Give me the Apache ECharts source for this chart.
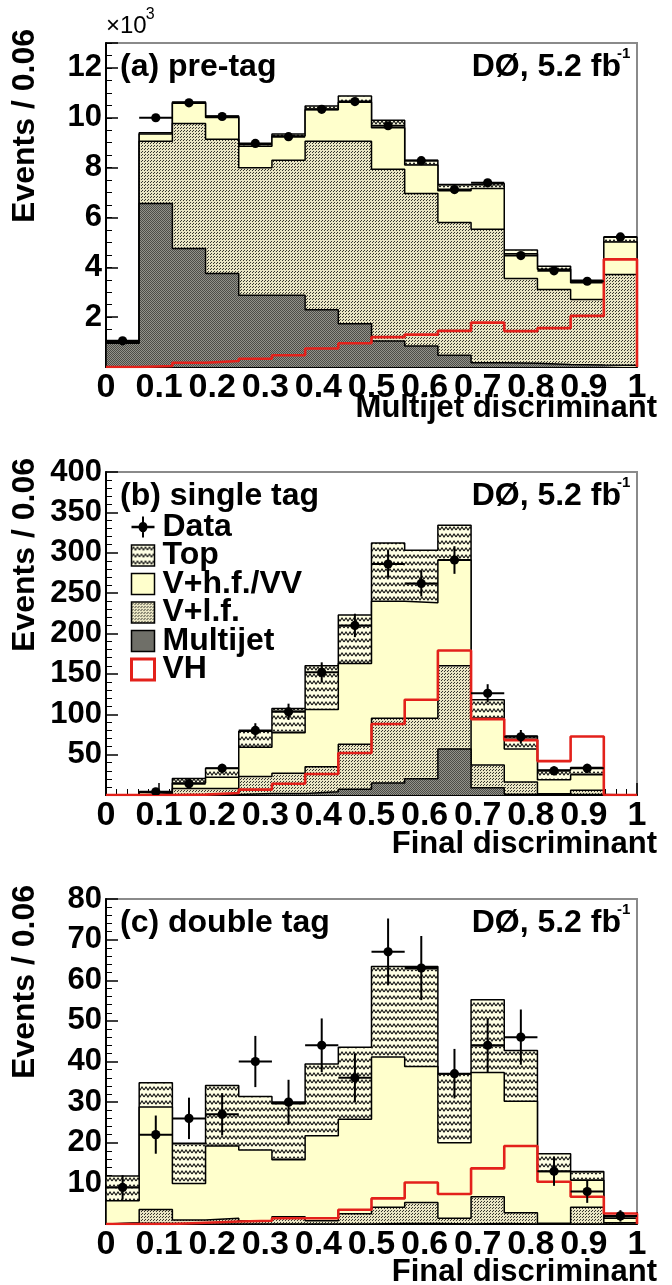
<!DOCTYPE html>
<html><head><meta charset="utf-8">
<script src="https://cdn.jsdelivr.net/npm/echarts@6/dist/echarts.min.js"></script>
<style>html,body{margin:0;padding:0;background:#fff}#c{width:672px;height:1285px}</style>
</head><body><div id="c"></div>
<script>
// ---------- data ----------
const binEdges = [0, 0.0625, 0.125, 0.1875, 0.25, 0.3125, 0.375, 0.4375, 0.5, 0.5625, 0.625, 0.6875, 0.75, 0.8125, 0.875, 0.9375, 1];
const componentNames = ['Top', 'V+h.f./VV', 'V+l.f.', 'Multijet', 'VH', 'Data'];
const panelLabels = ['(a) pre-tag', '(b) single tag', '(c) double tag'];
const xTitles = ['Multijet discriminant', 'Final discriminant', 'Final discriminant'];
const yTitle = 'Events / 0.06';
const expLabel = '\u00d710';
const expPower = '3';
const lumiLabel = 'D\u00d8, 5.2 fb';
const lumiPower = '-1';

// (a) pre-tag, in units of 10^3 events
const multijetA = [0.95, 6.56, 4.75, 3.75, 2.88, 2.88, 2.30, 1.74, 1.04, 0.84, 0.47, 0.17, 0.15, 0.10, 0.08, 0.07];
const vlfA      = [0.03, 2.50, 5.02, 5.39, 5.11, 5.42, 6.76, 7.32, 6.89, 6.12, 5.33, 5.36, 3.40, 3.01, 2.63, 3.64];
const vhfA      = [0.02, 0.29, 0.81, 0.87, 0.87, 0.97, 1.26, 1.56, 1.67, 1.14, 1.27, 1.63, 0.99, 0.81, 0.67, 1.31];
const topA      = [0.02, 0.05, 0.05, 0.06, 0.07, 0.08, 0.15, 0.25, 0.30, 0.20, 0.25, 0.20, 0.15, 0.12, 0.10, 0.20];
const vhA       = [0.00, 0.04, 0.17, 0.24, 0.33, 0.47, 0.74, 0.95, 1.20, 1.30, 1.45, 1.78, 1.44, 1.56, 2.05, 4.32];
const dataA     = [1.05, 10.0, 10.6, 10.05, 8.97, 9.24, 10.34, 10.65, 9.68, 8.28, 7.12, 7.39, 4.47, 3.86, 3.44, 5.22];
const errA      = [0.10, 0.10, 0.10, 0.10, 0.095, 0.096, 0.10, 0.10, 0.098, 0.091, 0.084, 0.086, 0.067, 0.062, 0.059, 0.072];

// (b) single tag
const multijetB = [0, 0, 0, 0.5, 2, 2, 4, 7, 15, 20, 57, 9, 1, 0.5, 0.5, 0];
const vlfB      = [0, 2, 8, 7.5, 21, 25, 31, 56, 80, 75, 103, 28, 15, 1, 5.5, 0];
const vhfB      = [0, 1, 7, 14, 36, 50, 71, 100, 145, 143, 131, 58, 41, 17.5, 19, 0];
const topB      = [0, 1, 5.5, 11, 20, 30, 54, 60, 72, 65, 43, 23, 16, 12, 9, 0];
const vhB       = [0, 0, 0.5, 2.5, 6.6, 14, 26, 52, 88, 118, 179, 94, 68, 42, 72.5, 0];
const dataB     = [null, 4, 14, 33, 80, 103, 152, 210, 286, 262, 291, 126, 72, 30, 33, null];
const errB      = [null, 2, 3.7, 5.7, 8.9, 10.1, 12.3, 14.5, 16.9, 16.2, 17.1, 11.2, 8.5, 5.5, 5.7, null];

// (c) double tag
const multijetC = [0.2, 0.1, 0, 0, 0, 0, 0, 0, 0.1, 0.1, 0, 0.1, 0, 0, 0, 0];
const vlfC      = [0.1, 3.5, 1.0, 1.4, 0.8, 1.8, 0.8, 2.5, 4.0, 5.2, 1.4, 6.6, 2.8, 0.2, 4.1, 0.3];
const vhfC      = [5.4, 25.2, 9.0, 17.8, 17.4, 14.0, 20.9, 23.3, 37.0, 33.5, 18.6, 30.6, 27.4, 12.7, 6.7, 1.1];
const topC      = [6.1, 6.0, 9.9, 14.9, 13.2, 13.8, 17.7, 17.7, 22.3, 24.6, 17.0, 17.9, 12.5, 4.4, 2.1, 0.4];
const vhC       = [0, 0, 0.3, 0.6, 0.8, 1.4, 1.4, 3.5, 6.3, 10.2, 7.4, 13.7, 19.2, 10.4, 6.7, 2.6];
const dataC     = [9, 22, 26, 27, 40, 30, 44, 36, 67, 63, 37, 44, 46, 13, 8, 2];
const errC      = [3, 4.7, 5.1, 5.2, 6.3, 5.5, 6.6, 6, 8.2, 7.9, 6.1, 6.6, 6.8, 3.6, 2.8, 1.4];

// ---------- helpers ----------
const FONT = "'Liberation Sans', Arial, Helvetica, sans-serif";
function makePattern(w, h, draw) {
  const c = document.createElement('canvas'); c.width = w; c.height = h;
  const g = c.getContext('2d'); draw(g, w, h);
  return { image: c, repeat: 'repeat' };
}
const topPat = makePattern(8, 7, (g, w, h) => {
  g.fillStyle = '#FFFFE4'; g.fillRect(0, 0, w, h);
  g.strokeStyle = '#111'; g.lineWidth = 1.1;
  g.beginPath(); g.moveTo(0, 5); g.lineTo(2, 2); g.lineTo(4, 5); g.lineTo(6, 2); g.lineTo(8, 5); g.stroke();
});
const vlfPat = makePattern(3, 3, (g) => {
  g.fillStyle = '#E9E5C4'; g.fillRect(0, 0, 3, 3);
  g.fillStyle = '#34342d'; g.fillRect(0, 2, 1, 1); g.fillRect(1, 1, 1, 1);
});
const mjPat = makePattern(2, 2, (g) => {
  g.fillStyle = '#92928a'; g.fillRect(0, 0, 2, 2);
  g.fillStyle = '#4c4c47'; g.fillRect(0, 0, 1, 1); g.fillRect(1, 1, 1, 1);
});
const YELLOW = '#FFFFCC';
const RED = '#E3211B';

function sumArr(...arrs) { return arrs[0].map((_, i) => arrs.reduce((s, a) => s + (a[i] || 0), 0)); }
function stepPts(v) {
  const n = v.length; const p = [[binEdges[0], 0]];
  for (let i = 0; i < n; i++) p.push([binEdges[i], v[i]]);
  p.push([binEdges[n], v[n - 1]]); p.push([binEdges[n], 0]);
  return p;
}
function dataPts(vals, errs) {
  const out = [];
  vals.forEach((v, i) => { if (v == null) return;
    out.push([(binEdges[i] + binEdges[i + 1]) / 2, v, errs[i], (binEdges[i + 1] - binEdges[i]) / 2]); });
  return out;
}
function renderData(params, api) {
  const xc = api.value(0), y = api.value(1), err = api.value(2), hw = api.value(3);
  const pC = api.coord([xc, y]), pL = api.coord([xc - hw, y]), pR = api.coord([xc + hw, y]);
  const pT = api.coord([xc, y + err]), pB = api.coord([xc, y - err]);
  return { type: 'group', children: [
    { type: 'line', shape: { x1: pL[0], y1: pL[1], x2: pR[0], y2: pR[1] }, style: { stroke: '#000', lineWidth: 2 } },
    { type: 'line', shape: { x1: pT[0], y1: pT[1], x2: pB[0], y2: pB[1] }, style: { stroke: '#000', lineWidth: 2 } },
    { type: 'circle', shape: { cx: pC[0], cy: pC[1], r: 4.6 }, style: { fill: '#000' } }
  ] };
}

const panels = [
  { mj: multijetA, vlf: vlfA, vhf: vhfA, top: topA, vh: vhA, data: dataA, err: errA },
  { mj: multijetB, vlf: vlfB, vhf: vhfB, top: topB, vh: vhB, data: dataB, err: errB },
  { mj: multijetC, vlf: vlfC, vhf: vhfC, top: topC, vh: vhC, data: dataC, err: errC }
];

// ---------- layout ----------
const gridTop = [43, 472, 899];
const gridH = [324, 323, 325];
const gridLeft = 106, gridW = 531;
const xTitleOffset = [41, 49, 48];

const grids = gridTop.map((t, i) => ({ left: gridLeft, top: t, width: gridW, height: gridH[i], show: true,
  borderColor: '#8a8a8a', borderWidth: 2, backgroundColor: 'rgba(0,0,0,0)', containLabel: false, outerBoundsMode: 'none' }));

const xAxes = [0, 1, 2].map(i => ({
  type: 'value', gridIndex: i, min: 0, max: 1, interval: 0.1,
  axisLine: { show: true, onZero: false, lineStyle: { color: '#000', width: 2 } },
  axisTick: { show: true, inside: true, length: 12, lineStyle: { color: '#000', width: 1.5 } },
  minorTick: { show: true, splitNumber: 5, length: 6, lineStyle: { color: '#000', width: 1 } },
  splitLine: { show: false }, minorSplitLine: { show: false },
  axisLabel: { show: true, fontSize: 34, fontWeight: 'bold', color: '#000', fontFamily: FONT, margin: 4,
    showMinLabel: true, showMaxLabel: true, hideOverlap: false,
    formatter: v => String(Math.round(v * 10) / 10) }
}));

function yAxisCfg(i, max, interval, split, fmt) {
  return {
    type: 'value', gridIndex: i, min: 0, max: max, interval: interval, position: 'left',
    axisLine: { show: true, onZero: false, lineStyle: { color: '#000', width: 2 } },
    axisTick: { show: true, inside: true, length: 12, lineStyle: { color: '#000', width: 1.5 } },
    minorTick: { show: split > 0, splitNumber: split || 5, length: 6, lineStyle: { color: '#000', width: 1 } },
    splitLine: { show: false }, minorSplitLine: { show: false },
    axisLabel: { show: true, fontSize: 31, fontWeight: 'bold', color: '#000', fontFamily: FONT, margin: 4,
      showMinLabel: true, showMaxLabel: true, hideOverlap: false, formatter: fmt }
  };
}
const yAxes = [
  yAxisCfg(0, 13, 2, 0, v => (v > 0 && Math.abs(v % 2) < 1e-9) ? String(v) : ''),
  yAxisCfg(1, 400, 50, 5, v => v > 0 ? String(v) : ''),
  yAxisCfg(2, 80, 10, 5, v => v > 0 ? String(v) : ''),
  { type: 'value', gridIndex: 0, min: 0, max: 13, interval: 0.5, position: 'left', offset: 0,
    axisLine: { show: false }, axisLabel: { show: false }, splitLine: { show: false },
    axisTick: { show: true, inside: true, length: 6, lineStyle: { color: '#000', width: 1 } } }
];

const series = [];
panels.forEach((p, i) => {
  const cumMj = p.mj;
  const cumVlf = sumArr(p.mj, p.vlf);
  const cumVhf = sumArr(p.mj, p.vlf, p.vhf);
  const total = sumArr(p.mj, p.vlf, p.vhf, p.top);
  const base = { type: 'line', xAxisIndex: i, yAxisIndex: i, step: 'end', symbol: 'none', showSymbol: false,
    silent: true, animation: false, emphasis: { disabled: true } };
  series.push(Object.assign({}, base, { name: 'Top', data: stepPts(total), z: 2,
    lineStyle: { color: '#000', width: 1.5 }, itemStyle: { color: '#000' }, areaStyle: { color: topPat, opacity: 1 } }));
  series.push(Object.assign({}, base, { name: 'V+h.f./VV', data: stepPts(cumVhf), z: 3,
    lineStyle: { color: '#000', width: 1.5 }, itemStyle: { color: '#000' }, areaStyle: { color: YELLOW, opacity: 1 } }));
  series.push(Object.assign({}, base, { name: 'V+l.f.', data: stepPts(cumVlf), z: 4,
    lineStyle: { color: '#000', width: 1.5 }, itemStyle: { color: '#000' }, areaStyle: { color: vlfPat, opacity: 1 } }));
  series.push(Object.assign({}, base, { name: 'Multijet', data: stepPts(cumMj), z: 5,
    lineStyle: { color: '#000', width: 1.5 }, itemStyle: { color: '#000' }, areaStyle: { color: mjPat, opacity: 1 } }));
  series.push(Object.assign({}, base, { name: 'VH', data: stepPts(p.vh), z: 6,
    lineStyle: { color: RED, width: 2.6 }, itemStyle: { color: RED } }));
  series.push({ type: 'custom', name: 'Data', xAxisIndex: i, yAxisIndex: i, z: 7, silent: true, animation: false,
    clip: true, data: dataPts(p.data, p.err), encode: { x: 0, y: 1 }, renderItem: renderData, itemStyle: { color: '#000' } });
});

// ---------- texts ----------
const measure = (() => { const c = document.createElement('canvas').getContext('2d');
  return (txt, font) => { c.font = font; return c.measureText(txt).width; }; })();
const graphic = [];
const expFont = `24px ${FONT}`;
graphic.push({ type: 'text', x: 106, y: 38, silent: true, style: { text: expLabel, font: expFont, fill: '#000', align: 'left', verticalAlign: 'bottom' } });
graphic.push({ type: 'text', x: 106 + measure(expLabel, expFont) - 1, y: 15, silent: true, style: { text: expPower, font: `16px ${FONT}`, fill: '#000', align: 'left', verticalAlign: 'middle' } });
gridTop.forEach((t, i) => {
  const b = t + gridH[i];
  graphic.push({ type: 'text', x: 9, y: t - 14, rotation: Math.PI / 2, silent: true,
    style: { text: yTitle, font: `bold 32px ${FONT}`, fill: '#000', align: 'right', verticalAlign: 'top' } });
  graphic.push({ type: 'text', x: 657, y: b + xTitleOffset[i], silent: true,
    style: { text: xTitles[i], font: `bold 31px ${FONT}`, fill: '#000', align: 'right', verticalAlign: 'middle' } });
  graphic.push({ type: 'text', x: 120, y: t + 24, silent: true,
    style: { text: panelLabels[i], font: `bold 32px ${FONT}`, fill: '#000', align: 'left', verticalAlign: 'middle' } });
  graphic.push({ type: 'text', x: 621, y: t + 24, silent: true,
    style: { text: lumiLabel, font: `bold 32px ${FONT}`, fill: '#000', align: 'right', verticalAlign: 'middle' } });
  graphic.push({ type: 'text', x: 617, y: t + 11, silent: true,
    style: { text: lumiPower, font: `bold 15px ${FONT}`, fill: '#000', align: 'left', verticalAlign: 'middle' } });
});

const option = {
  animation: false,
  backgroundColor: '#fff',
  grid: grids, xAxis: xAxes, yAxis: yAxes, series: series, graphic: graphic,
  legend: {
    orient: 'vertical', left: 130, top: 511, itemWidth: 23, itemHeight: 21, itemGap: -3.5, padding: 0,
    selectedMode: false, symbolKeepAspect: false,
    textStyle: { fontSize: 32, fontWeight: 'bold', color: '#000', fontFamily: FONT, padding: [0, 0, 0, 3] },
    data: [
      { name: 'Data', icon: 'path://M0,10 L23,10 L23,12 L0,12 Z M10.5,2 L12.5,2 L12.5,20 L10.5,20 Z M11.5,6.5 A4.5,4.5 0 1 1 11.49,6.5 Z', itemStyle: { color: '#000', borderWidth: 0 } },
      { name: 'Top', icon: 'rect', itemStyle: { color: topPat, borderColor: '#000', borderWidth: 1.5 } },
      { name: 'V+h.f./VV', icon: 'rect', itemStyle: { color: YELLOW, borderColor: '#000', borderWidth: 1.5 } },
      { name: 'V+l.f.', icon: 'rect', itemStyle: { color: vlfPat, borderColor: '#000', borderWidth: 1.5 } },
      { name: 'Multijet', icon: 'rect', itemStyle: { color: mjPat, borderColor: '#000', borderWidth: 1.5 } },
      { name: 'VH', icon: 'rect', itemStyle: { color: '#FFFFFF', borderColor: RED, borderWidth: 3 } }
    ]
  }
};
const chart = echarts.init(document.getElementById('c'), null, { renderer: 'canvas', width: 672, height: 1285 });
chart.setOption(option);
</script>
</body></html>
